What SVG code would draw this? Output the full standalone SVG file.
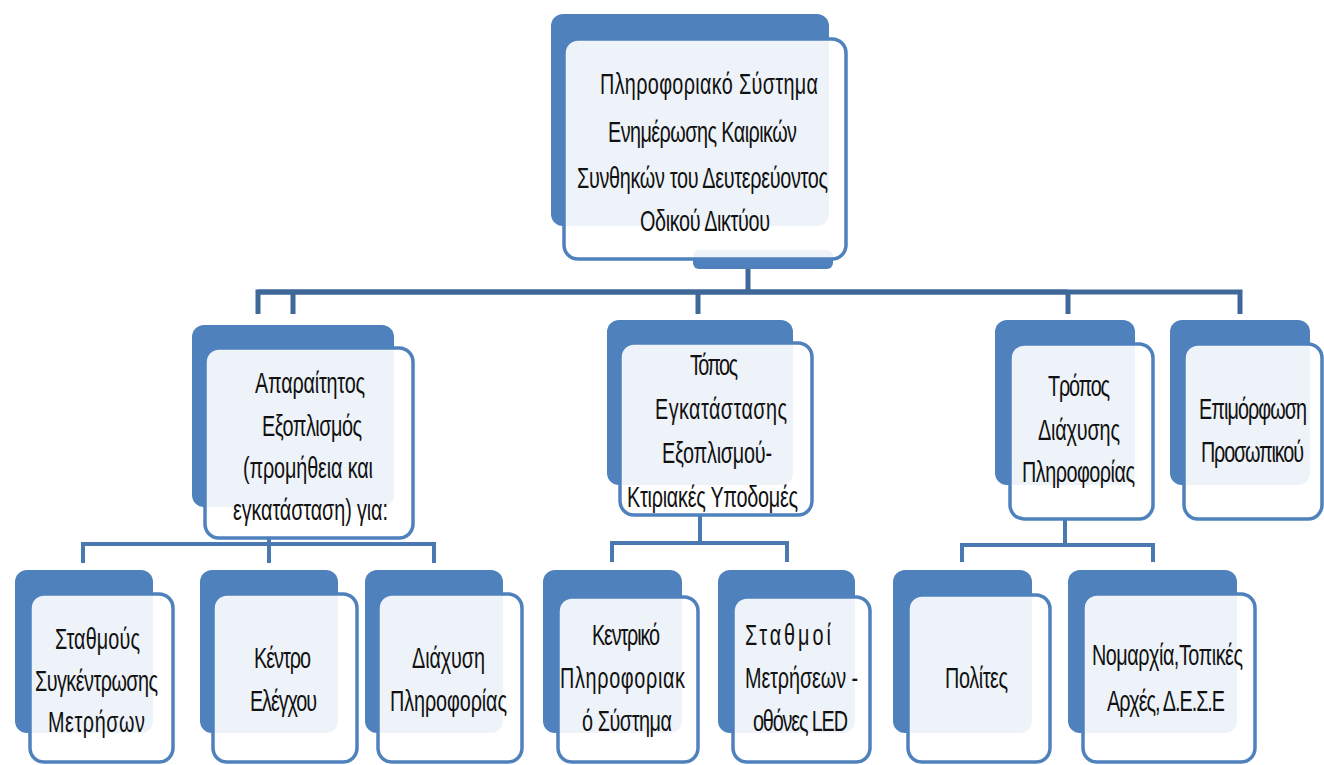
<svg xmlns="http://www.w3.org/2000/svg" width="1324" height="765" viewBox="0 0 1324 765">
<style>
.bk{fill:#4f81bd;}
.fr{fill:#ffffff;fill-opacity:0.9;stroke:#4f81bd;stroke-width:3.5;}
.t{font-family:"Liberation Sans",Arial,sans-serif;font-size:30px;fill:#111111;}
.c1{fill:none;stroke:#3f6899;stroke-width:5;stroke-linecap:butt;}
.c2{fill:none;stroke:#4a78b0;stroke-width:4;}
</style>
<rect width="1324" height="765" fill="#ffffff"/>
<g id="connectors">
<path class="c1" d="M258,314 V292 H1240 V314"/>
<path class="c1" d="M258,292 H1068" stroke-width="7"/>
<path class="c1" d="M293,292 V314 M698,292 V314 M1068,292 V314 M748,266 V292"/>
<path class="c2" d="M269,536 V544 M83,563 V544 H434 V563 M269,544 V563"/>
<path class="c2" d="M700,514 V543 M612,562 V543 H787 V562"/>
<path class="c2" d="M1065,518 V545 M962,562 V545 H1153 V562"/>
</g>
<g id="root">
<rect class="bk" x="551" y="14" width="278" height="212" rx="12"/>
<rect class="bk" x="693" y="250" width="140" height="19" rx="6"/>
<rect class="fr" x="564" y="39" width="282" height="220" rx="14"/>
<text class="t" transform="matrix(0.66 0 0 1 600 94)" textLength="330.3" lengthAdjust="spacing">Πληροφοριακό Σύστημα</text>
<text class="t" transform="matrix(0.66 0 0 1 608 142)" textLength="286.4" lengthAdjust="spacing">Ενημέρωσης Καιρικών</text>
<text class="t" transform="matrix(0.66 0 0 1 577 188)" textLength="380.3" lengthAdjust="spacing">Συνθηκών του Δευτερεύοντος</text>
<text class="t" transform="matrix(0.66 0 0 1 640 231)" textLength="197" lengthAdjust="spacing">Οδικού Δικτύου</text>
</g>
<g id="equipment">
<rect class="bk" x="192" y="325" width="202" height="182" rx="12"/>
<rect class="fr" x="205" y="348" width="208" height="190" rx="14"/>
<text class="t" transform="matrix(0.66 0 0 1 255 393)" textLength="166.7" lengthAdjust="spacing">Απαραίτητος</text>
<text class="t" transform="matrix(0.66 0 0 1 262 436)" textLength="151.5" lengthAdjust="spacing">Εξοπλισμός</text>
<text class="t" transform="matrix(0.66 0 0 1 243 478)" textLength="197" lengthAdjust="spacing">(προμήθεια και</text>
<text class="t" transform="matrix(0.66 0 0 1 233 520)" textLength="234.8" lengthAdjust="spacing">εγκατάσταση) για:</text>
</g>
<g id="location">
<rect class="bk" x="607" y="320" width="186" height="165" rx="12"/>
<rect class="fr" x="620" y="343" width="192" height="172" rx="14"/>
<text class="t" transform="matrix(0.66 0 0 1 690 375)" textLength="72.7" lengthAdjust="spacing">Τόπος</text>
<text class="t" transform="matrix(0.66 0 0 1 655 419)" textLength="200" lengthAdjust="spacing">Εγκατάστασης</text>
<text class="t" transform="matrix(0.66 0 0 1 662 463)" textLength="166.7" lengthAdjust="spacing">Εξοπλισμού-</text>
<text class="t" transform="matrix(0.66 0 0 1 627 507)" textLength="259.1" lengthAdjust="spacing">Κτιριακές Υποδομές</text>
</g>
<g id="diffusion">
<rect class="bk" x="995" y="320" width="140" height="165" rx="12"/>
<rect class="fr" x="1010" y="344" width="143" height="175" rx="14"/>
<text class="t" transform="matrix(0.66 0 0 1 1048 396)" textLength="93.9" lengthAdjust="spacing">Τρόπος</text>
<text class="t" transform="matrix(0.66 0 0 1 1038 440)" textLength="124.2" lengthAdjust="spacing">Διάχυσης</text>
<text class="t" transform="matrix(0.66 0 0 1 1022 482)" textLength="171.2" lengthAdjust="spacing">Πληροφορίας</text>
</g>
<g id="training">
<rect class="bk" x="1170" y="320" width="140" height="165" rx="12"/>
<rect class="fr" x="1184" y="344" width="138" height="175" rx="14"/>
<text class="t" transform="matrix(0.66 0 0 1 1199 419)" textLength="163.6" lengthAdjust="spacing">Επιμόρφωση</text>
<text class="t" transform="matrix(0.66 0 0 1 1201 462)" textLength="156.1" lengthAdjust="spacing">Προσωπικού</text>
</g>
<g id="stations">
<rect class="bk" x="15" y="570" width="138" height="163" rx="12"/>
<rect class="fr" x="30" y="594" width="143" height="168" rx="14"/>
<text class="t" transform="matrix(0.66 0 0 1 55 649)" textLength="128.8" lengthAdjust="spacing">Σταθμούς</text>
<text class="t" transform="matrix(0.66 0 0 1 35 691)" textLength="186.4" lengthAdjust="spacing">Συγκέντρωσης</text>
<text class="t" transform="matrix(0.66 0 0 1 48 732)" textLength="147" lengthAdjust="spacing">Μετρήσων</text>
</g>
<g id="control">
<rect class="bk" x="200" y="570" width="138" height="163" rx="12"/>
<rect class="fr" x="213" y="594" width="144" height="168" rx="14"/>
<text class="t" transform="matrix(0.66 0 0 1 254 668)" textLength="86.4" lengthAdjust="spacing">Κέντρο</text>
<text class="t" transform="matrix(0.66 0 0 1 250 711)" textLength="101.5" lengthAdjust="spacing">Ελέγχου</text>
</g>
<g id="infodiff">
<rect class="bk" x="365" y="570" width="138" height="163" rx="12"/>
<rect class="fr" x="378" y="594" width="144" height="168" rx="14"/>
<text class="t" transform="matrix(0.66 0 0 1 412 668)" textLength="110.6" lengthAdjust="spacing">Διάχυση</text>
<text class="t" transform="matrix(0.66 0 0 1 390 711)" textLength="177.3" lengthAdjust="spacing">Πληροφορίας</text>
</g>
<g id="central">
<rect class="bk" x="543" y="570" width="139" height="163" rx="12"/>
<rect class="fr" x="558" y="597" width="140" height="165" rx="14"/>
<text class="t" transform="matrix(0.66 0 0 1 592 645)" textLength="103" lengthAdjust="spacing">Κεντρικό</text>
<text class="t" transform="matrix(0.66 0 0 1 560 688)" textLength="189.4" lengthAdjust="spacing">Πληροφοριακ</text>
<text class="t" transform="matrix(0.66 0 0 1 582 731)" textLength="136.4" lengthAdjust="spacing">ό Σύστημα</text>
</g>
<g id="measure">
<rect class="bk" x="718" y="570" width="137" height="163" rx="12"/>
<rect class="fr" x="733" y="597" width="137" height="165" rx="14"/>
<text class="t" transform="matrix(0.66 0 0 1 745 645)" textLength="130" lengthAdjust="spacing">Σταθμοί</text>
<text class="t" transform="matrix(0.66 0 0 1 745 688)" textLength="171.2" lengthAdjust="spacing">Μετρήσεων -</text>
<text class="t" transform="matrix(0.66 0 0 1 753 731)" textLength="143.9" lengthAdjust="spacing">οθόνες LED</text>
</g>
<g id="citizens">
<rect class="bk" x="893" y="570" width="139" height="163" rx="12"/>
<rect class="fr" x="908" y="595" width="142" height="167" rx="14"/>
<text class="t" transform="matrix(0.66 0 0 1 945 688)" textLength="95.5" lengthAdjust="spacing">Πολίτες</text>
</g>
<g id="authorities">
<rect class="bk" x="1068" y="570" width="169" height="163" rx="12"/>
<rect class="fr" x="1083" y="594" width="172" height="168" rx="14"/>
<text class="t" transform="matrix(0.66 0 0 1 1092 665)" textLength="228.8" lengthAdjust="spacing">Νομαρχία,Τοπικές</text>
<text class="t" transform="matrix(0.66 0 0 1 1107 711)" textLength="178.8" lengthAdjust="spacing">Αρχές, Δ.Ε.Σ.Ε</text>
</g>
</svg>
